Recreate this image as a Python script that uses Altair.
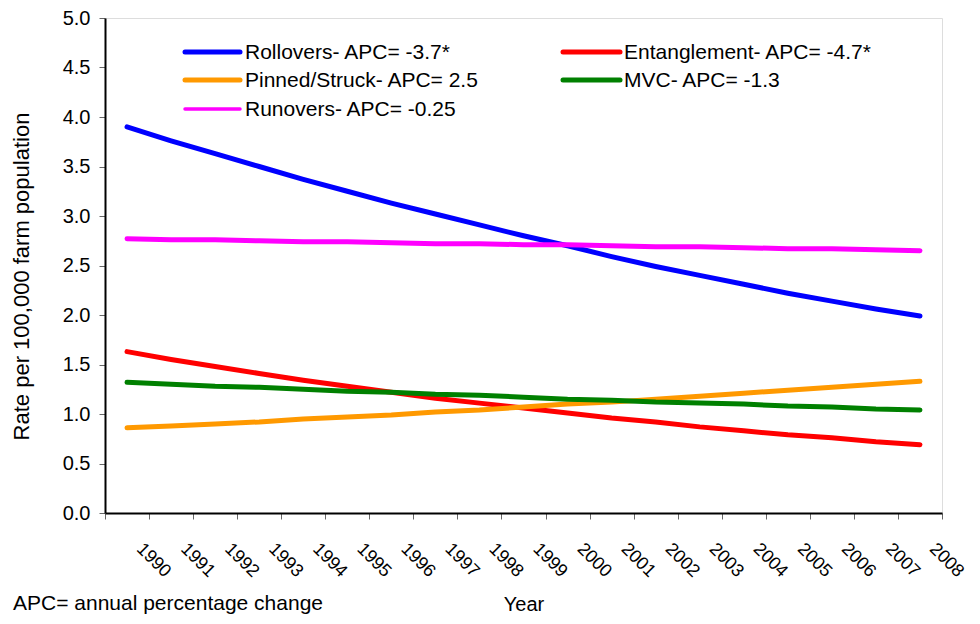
import altair as alt
import pandas as pd

# ---- data ----
years = [1990, 1991, 1992, 1993, 1994, 1995, 1996, 1997, 1998, 1999,
         2000, 2001, 2002, 2003, 2004, 2005, 2006, 2007, 2008]
rollovers = [3.90, 3.76, 3.63, 3.50, 3.37, 3.25, 3.13, 3.02, 2.91, 2.80,
             2.70, 2.59, 2.49, 2.40, 2.31, 2.22, 2.14, 2.06, 1.99]
entanglement = [1.63, 1.55, 1.48, 1.41, 1.34, 1.28, 1.22, 1.16, 1.11, 1.06,
                1.01, 0.96, 0.92, 0.87, 0.83, 0.79, 0.76, 0.72, 0.69]
pinned = [0.86, 0.88, 0.90, 0.92, 0.95, 0.97, 0.99, 1.02, 1.04, 1.07,
          1.10, 1.12, 1.15, 1.18, 1.21, 1.24, 1.27, 1.30, 1.33]
mvc = [1.32, 1.30, 1.28, 1.27, 1.25, 1.23, 1.22, 1.20, 1.19, 1.17,
       1.15, 1.14, 1.12, 1.11, 1.10, 1.08, 1.07, 1.05, 1.04]
runovers = [2.77, 2.76, 2.76, 2.75, 2.74, 2.74, 2.73, 2.72, 2.72, 2.71,
            2.71, 2.70, 2.69, 2.69, 2.68, 2.67, 2.67, 2.66, 2.65]

series_names = ["Rollovers", "Entanglement", "Pinned/Struck", "MVC", "Runovers"]
series_labels = ["Rollovers- APC= -3.7*", "Entanglement- APC= -4.7*",
                 "Pinned/Struck- APC= 2.5", "MVC- APC= -1.3", "Runovers- APC= -0.25"]
series_colors = ["#0000FF", "#FF0000", "#FF9900", "#008000", "#FF00FF"]
series_values = [rollovers, entanglement, pinned, mvc, runovers]

y_ticks = [0.0, 0.5, 1.0, 1.5, 2.0, 2.5, 3.0, 3.5, 4.0, 4.5, 5.0]
footnote = "APC= annual percentage change"

# tick marks sit between the year categories
tick_edges = [y - 0.5 for y in years] + [years[-1] + 0.5]

rows = []
for name, vals in zip(series_names, series_values):
    for yr, v in zip(years, vals):
        rows.append({"series": name, "year": yr, "rate": v})
df = pd.DataFrame(rows)

FONT = "Liberation Sans"
W, H = 837, 495

lines = alt.Chart(df).mark_line(strokeCap="round", strokeJoin="round").encode(
    x=alt.X("year:Q",
            scale=alt.Scale(domain=[tick_edges[0], tick_edges[-1]], nice=False, zero=False),
            axis=alt.Axis(values=tick_edges,
                          labelExpr="datum.value < 1990 ? '' : toString(floor(datum.value))",
                          labelAngle=45, labelAlign="center", labelBaseline="middle",
                          labelPadding=41, labelOffset=4, labelFontSize=18,
                          labelColor="black", labelOverlap=False, labelFlush=False,
                          labelBound=False, tickSize=6, tickColor="#666", tickWidth=1,
                          domainColor="black", domainWidth=2, grid=False,
                          title="Year", titleFontSize=20, titleFontWeight="normal",
                          titleColor="black", titleX=W / 2, titleY=97,
                          titleAlign="center", titleBaseline="alphabetic")),
    y=alt.Y("rate:Q",
            scale=alt.Scale(domain=[0, 5], nice=False, zero=True),
            axis=alt.Axis(values=y_ticks, format=".1f", labelFontSize=20,
                          labelColor="black", labelPadding=9, tickSize=6,
                          tickColor="#666", tickWidth=1, domainColor="black",
                          domainWidth=2, grid=False,
                          title="Rate per 100,000 farm population",
                          titleFontSize=22, titleFontWeight="normal",
                          titleColor="black", titleAngle=-90, titleX=-77,
                          titleY=258, titleAlign="center",
                          titleBaseline="alphabetic")),
    color=alt.Color("series:N", scale=alt.Scale(domain=series_names, range=series_colors),
                    legend=None),
    strokeWidth=alt.StrokeWidth("series:N",
                                scale=alt.Scale(domain=series_names, range=[5, 5, 5, 5, 4]),
                                legend=None),
)

# ---- manual legend (two columns, row-major like the original) ----
col_line_x = [(80, 135), (458, 515)]
col_text_x = [140, 519]
row_y = [34, 62, 91]
legend_layers = []
one = pd.DataFrame({"k": [0]})
for i, (lab, colr) in enumerate(zip(series_labels, series_colors)):
    c, r = i % 2, i // 2
    sw = 3.5 if lab.startswith("Runovers") else 5
    legend_layers.append(
        alt.Chart(one).mark_rule(color=colr, strokeWidth=sw, strokeCap="round").encode(
            x=alt.value(col_line_x[c][0]), x2=alt.value(col_line_x[c][1]),
            y=alt.value(row_y[r]))
    )
    legend_layers.append(
        alt.Chart(one).mark_text(text=lab, align="left", baseline="middle",
                                 fontSize=21, font=FONT, color="black").encode(
            x=alt.value(col_text_x[c]), y=alt.value(row_y[r] + 1))
    )

note = alt.Chart(one).mark_text(text=footnote, align="left", baseline="alphabetic",
                                fontSize=21, font=FONT, color="black").encode(
    x=alt.value(-92), y=alt.value(592))

chart = alt.layer(lines, *legend_layers, note).properties(
    width=W, height=H,
    autosize=alt.AutoSizeParams(type="none"),
    padding={"left": 97, "top": 10, "right": 30, "bottom": 103},
).configure_view(stroke="black", strokeWidth=2).configure(font=FONT)

chart.save("out.html", embed_options={"renderer": "svg", "actions": False})
